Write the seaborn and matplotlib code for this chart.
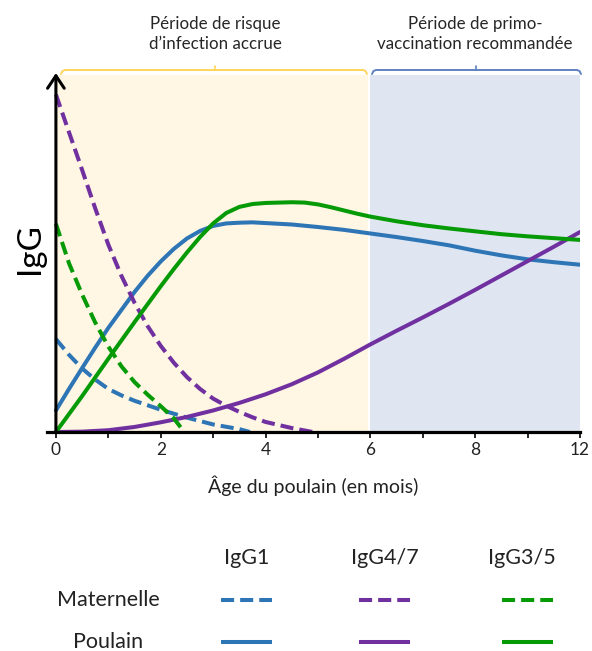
import numpy as np
import pandas as pd
import matplotlib
matplotlib.use("Agg")
import matplotlib.pyplot as plt
import seaborn as sns

# ---------------- data (age axis is drawn on positions 0..10; last label is "12") ----------------
tick_pos = [0, 2, 4, 6, 8, 10]
tick_labels = ["0", "2", "4", "6", "8", "12"]

# Maternal IgG1 (dashed blue)
mat_igg1_x = [0, 0.25, 0.5, 0.75, 1.0, 1.25, 1.5, 2.0, 2.5, 3.0, 3.5, 3.7]
mat_igg1_y = [25.9, 21.5, 17.7, 14.6, 12.0, 10.2, 8.7, 6.2, 4.0, 2.1, 0.8, 0.0]

# Maternal IgG4/7 (dashed purple)
mat_igg47_x = [0, 0.25, 0.5, 0.75, 1.0, 1.25, 1.5, 1.75, 2.0, 2.25, 2.5, 2.75, 3.0, 3.25, 3.5, 3.75, 4.0, 4.5, 4.9]
mat_igg47_y = [94, 83.5, 73, 62.3, 52.2, 43.5, 36.0, 29.5, 24.0, 19.3, 15.3, 12.0, 9.3, 7.3, 5.6, 4.1, 2.8, 1.1, 0.0]

# Maternal IgG3/5 (dashed green)
mat_igg35_x = [0, 0.25, 0.5, 0.75, 1.0, 1.25, 1.5, 1.75, 2.0, 2.25, 2.45]
mat_igg35_y = [58, 47, 38.3, 30.5, 23.8, 18.3, 13.9, 10.4, 7.2, 3.8, 0.0]

# Foal IgG1 (solid blue)
foal_igg1_x = [0, 0.25, 0.5, 0.75, 1.0, 1.25, 1.5, 1.75, 2.0, 2.25, 2.5, 2.75, 3.0, 3.25, 3.5, 3.75,
               4.0, 4.5, 5.0, 5.5, 6.0, 6.5, 7.0, 7.5, 8.0, 8.5, 9.0, 9.5, 10]
foal_igg1_y = [6.0, 12, 17.8, 23.5, 29, 34, 39, 43.5, 47.5, 51, 53.9, 56, 57.4, 58.1, 58.3, 58.4,
               58.2, 57.8, 57.1, 56.3, 55.3, 54.3, 53.2, 52, 50.5, 49.2, 48.1, 47.3, 46.6]

# Foal IgG4/7 (solid purple)
foal_igg47_x = [0, 0.5, 1.0, 1.5, 2.0, 2.5, 3.0, 3.5, 4.0, 4.5, 5.0, 5.5, 6.0, 6.5, 7.0, 7.5, 8.0, 8.5, 9.0, 9.5, 10]
foal_igg47_y = [0, 0.1, 0.5, 1.4, 2.7, 4.2, 6.0, 8.1, 10.5, 13.3, 16.6, 20.4, 24.4, 28.2, 31.9, 35.7, 39.6, 43.6, 47.6, 51.6, 55.7]

# Foal IgG3/5 (solid green)
foal_igg35_x = [0, 0.25, 0.5, 0.75, 1.0, 1.25, 1.5, 1.75, 2.0, 2.25, 2.5, 2.75, 3.0, 3.25, 3.5, 3.75,
                4.0, 4.5, 4.75, 5.0, 5.25, 5.5, 5.75, 6.0, 6.5, 7.0, 7.5, 8.0, 8.5, 9.0, 9.5, 10]
foal_igg35_y = [0, 5, 10, 15.2, 20.4, 25.5, 30.6, 35.6, 40.6, 45.4, 50, 54.3, 58.1, 61.0, 62.7, 63.5,
                63.8, 64, 63.9, 63.4, 62.6, 61.7, 60.8, 60, 58.7, 57.6, 56.7, 55.9, 55.1, 54.5, 54, 53.5]

# periods (x positions)
period_risk = (0.02, 5.95)
period_vacc = (6.0, 10.0)

isotypes = ["IgG1", "IgG4/7", "IgG3/5"]
origins = ["Maternelle", "Poulain"]
colors = {"IgG1": "#2E75B6", "IgG4/7": "#7030A0", "IgG3/5": "#079A07"}

series = [
    ("IgG1", "Maternelle", mat_igg1_x, mat_igg1_y),
    ("IgG4/7", "Maternelle", mat_igg47_x, mat_igg47_y),
    ("IgG3/5", "Maternelle", mat_igg35_x, mat_igg35_y),
    ("IgG1", "Poulain", foal_igg1_x, foal_igg1_y),
    ("IgG4/7", "Poulain", foal_igg47_x, foal_igg47_y),
    ("IgG3/5", "Poulain", foal_igg35_x, foal_igg35_y),
]
rows = []
for iso, orig, xs, ys in series:
    for x, y in zip(xs, ys):
        rows.append({"age": x, "igg": y, "isotype": iso, "origine": orig})
df = pd.DataFrame(rows)

# ---------------- style ----------------
sns.set_theme(style="white")
plt.rcParams["font.family"] = ["Lato", "DejaVu Sans"]

W, H = 592, 651
fig = plt.figure(figsize=(W / 100, H / 100), dpi=100)
fig.patch.set_facecolor("white")

left_px, right_px, base_px, top_px = 47, 580, 432, 73
ax = fig.add_axes([left_px / W, (H - base_px) / H, (right_px - left_px) / W, (base_px - top_px) / H])
ax.set_facecolor("none")
ax.set_xlim(-0.17, 10)
ax.set_ylim(0, 100)

# background periods
shade_top = 99.4
ax.fill_between(list(period_risk), 0, shade_top, color="#FFF7E4", lw=0, zorder=0)
ax.fill_between(list(period_vacc), 0, shade_top, color="#DFE6F2", lw=0, zorder=0)

sns.lineplot(data=df, x="age", y="igg", hue="isotype", style="origine",
             hue_order=isotypes, style_order=origins, palette=colors,
             dashes={"Maternelle": (3.25, 1.5), "Poulain": ""},
             lw=2.9, legend=False, ax=ax, zorder=3, estimator=None)
for ln in ax.get_lines():
    ln.set_solid_joinstyle("round")
    ln.set_dash_joinstyle("round")

# axes styling
for s in ["top", "right", "left"]:
    ax.spines[s].set_visible(False)
ax.spines["bottom"].set_color("black")
ax.spines["bottom"].set_linewidth(2.3)
ax.spines["bottom"].set_zorder(5)
ax.set_xticks(list(range(0, 11)))
lab_map = dict(zip(tick_pos, tick_labels))
ax.set_xticklabels([lab_map.get(i, "") for i in range(0, 11)])
ax.tick_params(axis="x", direction="out", length=4.5, width=1.2, color="black",
               labelsize=12.5, labelcolor="#222222", pad=3, bottom=True)
ax.set_yticks([])
ax.set_xlabel("Âge du poulain (en mois)", fontsize=14, color="#222222", labelpad=12)
ax.set_ylabel("")

# y axis arrow
ax.annotate("", xy=(0, 100), xytext=(0, 0), xycoords="data",
            arrowprops=dict(arrowstyle="->,head_length=0.45,head_width=0.3", lw=2.2,
                            color="black", mutation_scale=20, shrinkA=0, shrinkB=0),
            annotation_clip=False, zorder=6)

# y label
fig.text(30 / W, 1 - 249 / H, "IgG", rotation=90, ha="center", va="center",
         fontsize=24, color="black")

# ---------------- overlay (pixel coordinates) ----------------
ov = fig.add_axes([0, 0, 1, 1])
ov.set_xlim(0, W)
ov.set_ylim(H, 0)
ov.axis("off")
ov.patch.set_alpha(0)

def bracket(x0, x1, xm, y, color):
    xs = [x0, x0 + 1.5, x0 + 4, x1 - 4, x1 - 1.5, x1]
    ys = [y + 4, y + 1, y, y, y + 1, y + 4]
    ov.plot(xs, ys, color=color, lw=1.4, solid_capstyle="round", solid_joinstyle="round")
    ov.plot([xm, xm], [y, y - 4.5], color=color, lw=1.2)

bracket(61, 367, 215, 70, "#FFD55C")
bracket(372, 581, 476, 70, "#5F82C2")

ov.text(215, 34, "Période de risque\nd’infection accrue", ha="center", va="center",
        fontsize=12.2, color="#262626", linespacing=1.35)
ov.text(475, 34, "Période de primo-\nvaccination recommandée", ha="center", va="center",
        fontsize=12.2, color="#262626", linespacing=1.35)

# legend table
col_text_x = [247, 385, 522]
col_line_x = [(221, 272), (359, 410), (502, 553)]
row_y = {"Maternelle": 600, "Poulain": 642}
for iso, cx in zip(isotypes, col_text_x):
    ov.text(cx, 558, iso, ha="center", va="center", fontsize=15.5, color="#222222")
for orig, ry in row_y.items():
    ov.text(108, ry, orig, ha="center", va="center", fontsize=15.5, color="#222222")
for iso, (lx0, lx1) in zip(isotypes, col_line_x):
    for orig, ry in row_y.items():
        ls = (0, (3.25, 1.5)) if orig == "Maternelle" else "-"
        ov.plot([lx0, lx1], [ry, ry], color=colors[iso], lw=2.9, linestyle=ls,
                solid_capstyle="butt", dash_capstyle="butt")

fig.savefig("out.png", dpi=100, facecolor="white")
